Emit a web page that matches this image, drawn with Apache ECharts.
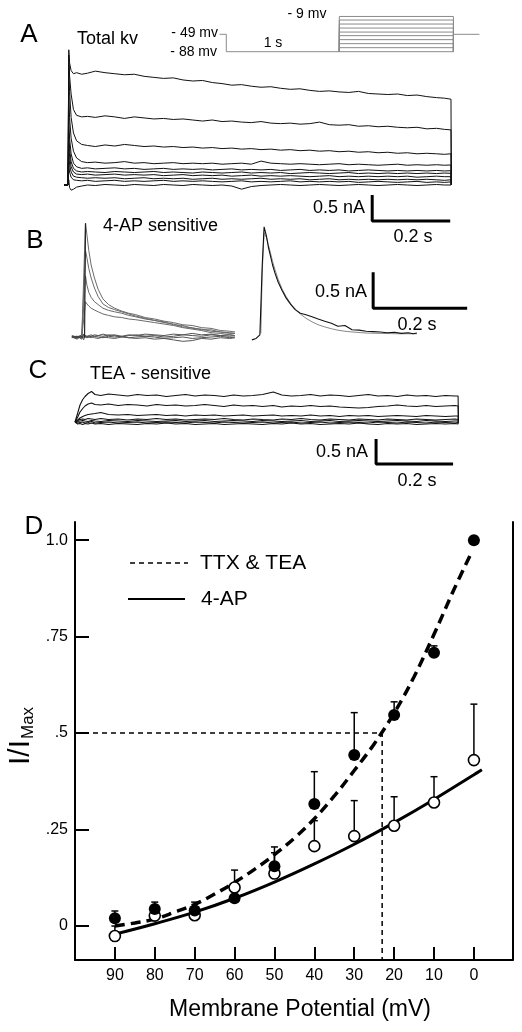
<!DOCTYPE html>
<html><head><meta charset="utf-8">
<script src="https://cdn.jsdelivr.net/npm/echarts@6/dist/echarts.min.js"></script>
<style>html,body{margin:0;padding:0;background:#fff}#c{width:522px;height:1032px}</style>
</head><body><div id="c"></div>
<script>
// ---------- Panel A: total Kv current traces (time ms, current nA) ----------
const tA = [-10,0,2,4,8,14,22,35,50,70, 95,120,145,170,195,220,245,270,295,320, 345,370,395,420,445,470,495,520,545,570, 595,620,645,670,695,720,745,770,795,820, 845,870,895,920,945,965,982,983];
const A1 = [0,0,2.6,2.35,2.2,2.14,2.16,2.13,2.15,2.19, 2.16,2.14,2.12,2.13,2.09,2.07,2.05,2.06,2.02,2.0, 2.01,1.97,1.95,1.92,1.93,1.9,1.88,1.89,1.86,1.84, 1.85,1.82,1.80,1.81,1.79,1.78,1.80,1.76,1.75,1.74, 1.75,1.72,1.73,1.70,1.68,1.67,1.65,0];
const A2 = [0,0,2.5,2.1,1.75,1.45,1.34,1.31,1.32,1.3, 1.33,1.31,1.28,1.31,1.29,1.27,1.28,1.26,1.27,1.25, 1.23,1.25,1.22,1.23,1.21,1.2,1.22,1.19,1.18,1.19, 1.17,1.18,1.21,1.16,1.15,1.16,1.13,1.14,1.12,1.13, 1.11,1.1,1.11,1.08,1.09,1.07,1.06,0];
const A3 = [0,0,2.3,1.8,1.3,1.0,0.85,0.78,0.76,0.74, 0.77,0.75,0.78,0.76,0.74,0.75,0.73,0.74,0.72,0.73, 0.71,0.72,0.70,0.71,0.69,0.70,0.68,0.69,0.67,0.68, 0.66,0.67,0.65,0.66,0.64,0.65,0.63,0.64,0.62,0.63, 0.61,0.62,0.60,0.61,0.60,0.59,0.60,0];
const A4 = [0,0,1.8,1.3,0.9,0.65,0.52,0.45,0.43,0.44, 0.42,0.43,0.45,0.42,0.43,0.41,0.42,0.43,0.41,0.42, 0.41,0.42,0.40,0.41,0.42,0.40,0.46,0.42,0.41,0.40, 0.41,0.40,0.39,0.40,0.41,0.39,0.40,0.39,0.38,0.39, 0.40,0.38,0.39,0.38,0.39,0.38,0.385,0];
const A5 = [0,0,1.3,0.9,0.6,0.42,0.35,0.32,0.33,0.31, 0.32,0.33,0.31,0.32,0.30,0.31,0.32,0.30,0.31,0.30, 0.31,0.29,0.30,0.31,0.29,0.30,0.29,0.30,0.28,0.29, 0.30,0.28,0.29,0.28,0.29,0.27,0.28,0.29,0.28,0.27, 0.28,0.27,0.28,0.27,0.28,0.27,0.275,0];
const A6 = [0,0,1.0,0.7,0.45,0.32,0.27,0.25,0.26,0.25, 0.24,0.26,0.25,0.24,0.25,0.26,0.24,0.25,0.24,0.23, 0.25,0.24,0.23,0.24,0.25,0.23,0.24,0.23,0.24,0.22, 0.23,0.24,0.23,0.22,0.23,0.24,0.22,0.23,0.22,0.23, 0.22,0.23,0.22,0.23,0.22,0.23,0.225,0];
const A7 = [0,0,0.8,0.55,0.35,0.25,0.21,0.2,0.21,0.19, 0.2,0.21,0.19,0.2,0.19,0.2,0.18,0.19,0.2,0.18, 0.19,0.18,0.19,0.17,0.18,0.19,0.17,0.18,0.17,0.18, 0.17,0.16,0.17,0.18,0.16,0.17,0.16,0.17,0.16,0.17, 0.16,0.17,0.15,0.16,0.17,0.16,0.16,0];
const A8 = [0,0,0.6,0.4,0.25,0.17,0.15,0.14,0.13,0.14, 0.13,0.14,0.12,0.13,0.14,0.12,0.13,0.12,0.13,0.11, 0.12,0.13,0.11,0.12,0.11,0.12,0.13,0.11,0.12,0.11, 0.12,0.1,0.11,0.12,0.1,0.11,0.1,0.11,0.1,0.11, 0.1,0.11,0.1,0.11,0.1,0.09,0.1,0];
const A9 = [0,0,0.4,0.25,0.15,0.1,0.09,0.08,0.09,0.07, 0.08,0.09,0.07,0.08,0.07,0.08,0.09,0.07,0.08,0.07, 0.08,0.07,0.06,0.07,0.08,0.06,0.07,0.06,0.07,0.08, 0.06,0.07,0.06,0.07,0.06,0.07,0.05,0.06,0.07,0.06, 0.05,0.06,0.07,0.05,0.06,0.05,0.06,0];
const A10 = [0,0,0.1,-0.05,-0.1,-0.08,-0.04,-0.02,0.0,-0.01, 0.01,0,-0.01,0.01,0,-0.01,0.01,0,-0.01,0.01, 0,-0.01,0,-0.02,-0.08,-0.03,-0.01,0,0.01,0, -0.01,0,0.01,0,-0.01,0,0.01,0,-0.01,0, 0.01,0,-0.01,0,0.01,0,0,0];
const tracesA = [A1,A2,A3,A4,A5,A6,A7,A8,A9,A10];
const scaleA = [[780,-0.19],[780,-0.69],[980,-0.69]];   // 0.5 nA / 0.2 s

// ---------- Voltage protocol (ms, mV) ----------
const protoHold = [[-60,-49],[0,-49],[0,-88],[1000,-88]];
const protoSteps = [-88,-79,-70,-61,-52,-44,-35,-26,-17,-9];
const protoStepStart = 1000, protoStepEnd = 2010;
const protoTail = [[2010,-49],[2240,-49]];

// ---------- Panel B: 4-AP sensitive ----------
const tB = [4,15,25,29,31,33,36,40,45,52, 60,70,82,95,110,125,140,160,180,200, 220,240,260,280,300,320,340,351];
const B1 = [0,0.01,-0.02,0,1.2,1.58,1.42,1.2,1.0,0.82, 0.66,0.53,0.45,0.40,0.36,0.33,0.31,0.27,0.25,0.22, 0.20,0.17,0.16,0.13,0.12,0.09,0.08,0.07];
const B2 = [0,-0.01,0.01,0,0.9,1.2,1.1,0.95,0.82,0.68, 0.56,0.46,0.41,0.38,0.35,0.32,0.29,0.26,0.23,0.21, 0.17,0.16,0.12,0.11,0.08,0.07,0.05,0.05];
const B3 = [0,0.01,0,0.01,0.6,0.85,0.72,0.62,0.55,0.49, 0.45,0.40,0.37,0.35,0.33,0.30,0.28,0.25,0.23,0.20, 0.18,0.14,0.13,0.10,0.10,0.07,0.06,0.05];
const B4 = [0,0,0.01,0,0.35,0.49,0.46,0.43,0.40,0.375, 0.35,0.32,0.30,0.28,0.27,0.25,0.24,0.22,0.20,0.18, 0.16,0.13,0.11,0.09,0.06,0.05,0.03,0.02];
const BF1 = [0.01,-0.02,0.02,0.03,0.02,0.01,0,0.02,0.01,0.03, 0.02,0.01,0.03,0.02,0,0.02,0.03,0.01,0.02,0, 0.01,0.03,0.02,0.01,0.03,0.02,0.01,0.02];
const BF2 = [-0.01,0.01,-0.03,0.04,0.01,-0.01,0.01,0,-0.01,0.01, 0,-0.01,0.01,0,0.01,-0.01,0,0.01,0,-0.02, -0.01,0,-0.02,-0.01,0,0.01,-0.01,0];
const BF3 = [0,-0.03,0.02,-0.04,0,0.01,-0.01,0,0.01,-0.01, -0.02,0,-0.01,-0.02,0,-0.01,-0.02,-0.01,-0.03,-0.02, -0.04,-0.06,-0.05,-0.02,-0.03,-0.01,-0.02,-0.01];
const BF4 = [0.02,0,0.03,0.01,0.02,0.03,0.01,0.02,0.03,0.01, 0.02,0.04,0.02,0.03,0.01,0.03,0.02,0.04,0.03,0.02, 0.04,0.03,0.05,0.03,0.04,0.02,0.03,0.02];
const tracesB = [BF1,BF2,BF3,BF4,B4,B3,B2,B1];
const tR = [387,396,404,406,409,413,418,422,426,431, 436,443,451,460,470,479,490,502,515,528, 542,556,570,585,600,615,630,645,660,675, 690,705,720,730,738];
const R  = [-0.04,-0.02,0.03,0.05,1.0,1.53,1.4,1.25,1.14,1.0, 0.89,0.76,0.65,0.54,0.45,0.38,0.33,0.31,0.28,0.25, 0.22,0.19,0.15,0.16,0.10,0.095,0.08,0.075,0.07,0.06, 0.065,0.05,0.06,0.045,0.055];
const tFit = [406,409,413,418,422,426,431,436,443,451, 460,470,479,490,502,515,528,542,556,570, 585,600,630,660,700,738];
const RFit = [0.05,0.9,1.45,1.38,1.28,1.18,1.05,0.94,0.8,0.67, 0.56,0.46,0.39,0.32,0.26,0.21,0.17,0.14,0.115,0.095, 0.08,0.07,0.055,0.05,0.045,0.045];
const scaleB = [[645,0.9],[645,0.4],[845,0.4]];

// ---------- Panel C: TEA sensitive ----------
const tC = [13,20,26,33,39,47,56,65,80,100, 125,150,175,200,225,250,275,300,325,350, 375,400,425,450,475,500,528,550,575,600, 625,650,675,700,725,750,775,800,825,850, 875,900,925,950,975,1000,1008,1009];
const C1 = [0,0.18,0.34,0.45,0.51,0.57,0.61,0.55,0.53,0.56, 0.54,0.52,0.55,0.53,0.54,0.51,0.53,0.55,0.52,0.54, 0.53,0.51,0.54,0.52,0.53,0.55,0.6,0.54,0.52,0.53, 0.55,0.52,0.54,0.53,0.51,0.53,0.55,0.52,0.53,0.51, 0.54,0.52,0.53,0.51,0.53,0.52,0.52,0];
const C2 = [0,0.1,0.2,0.27,0.32,0.36,0.38,0.35,0.34,0.36, 0.33,0.35,0.34,0.32,0.35,0.33,0.34,0.32,0.33,0.35, 0.33,0.31,0.34,0.32,0.33,0.31,0.33,0.30,0.32,0.31, 0.33,0.31,0.32,0.30,0.29,0.28,0.29,0.31,0.32,0.34, 0.32,0.31,0.33,0.31,0.32,0.33,0.32,0];
const C3 = [0,0.04,0.08,0.11,0.13,0.15,0.16,0.17,0.19,0.15, 0.14,0.15,0.13,0.14,0.15,0.13,0.14,0.12,0.14,0.13, 0.14,0.12,0.13,0.14,0.12,0.13,0.14,0.12,0.13,0.12, 0.14,0.12,0.13,0.11,0.13,0.12,0.13,0.11,0.12,0.13, 0.12,0.11,0.13,0.12,0.11,0.12,0.12,0];
const C4 = [0,0.03,0.05,0.06,0.05,0.07,0.06,0.05,0.07,0.05, 0.06,0.04,0.06,0.05,0.07,0.05,0.06,0.04,0.05,0.06, 0.05,0.07,0.05,0.04,0.06,0.05,0.04,0.06,0.05,0.07, 0.05,0.04,0.06,0.05,0.04,0.06,0.05,0.04,0.06,0.05, 0.04,0.06,0.05,0.04,0.05,0.06,0.05,0];
const C5 = [0,0.01,0.02,0.03,0.02,0.01,0.03,0.02,0.01,0.03, 0.02,0.01,0.03,0.02,0.01,0.02,0.03,0.01,0.02,0.03, 0.01,0.02,0.03,0.02,0.01,0.03,0.02,0.01,0.02,0.03, 0.01,0.02,0.03,0.01,0.02,0.03,0.02,0.01,0.02,0.03, 0.02,0.01,0.03,0.02,0.01,0.02,0.02,0];
const C6 = [0,-0.02,-0.01,0,-0.02,-0.01,0.01,-0.02,-0.01,0, -0.02,-0.01,0,-0.02,-0.01,0,-0.01,-0.02,0,-0.01, -0.02,0,-0.01,-0.02,-0.01,0,-0.02,-0.01,0,-0.02, -0.01,0,-0.02,-0.01,0,-0.01,-0.02,0,-0.01,-0.02, 0,-0.01,-0.02,0,-0.01,-0.02,-0.01,0];
const C7 = [0,-0.04,-0.03,-0.05,-0.03,-0.04,-0.02,-0.04,-0.03,-0.05, -0.03,-0.04,-0.05,-0.03,-0.04,-0.02,-0.04,-0.03,-0.05,-0.04, -0.03,-0.05,-0.04,-0.03,-0.04,-0.05,-0.03,-0.04,-0.02,-0.04, -0.03,-0.05,-0.04,-0.03,-0.04,-0.02,-0.04,-0.05,-0.03,-0.04, -0.03,-0.05,-0.04,-0.03,-0.04,-0.03,-0.04,0];
const tracesC = [C1,C2,C3,C4,C5,C6,C7];
const scaleC = [[795,-0.34],[795,-0.84],[995,-0.84]];

// ---------- Panel D: I/Imax vs membrane potential ----------
const vD      = [90,80,70,60,50,40,30,20,10,0];
const ttxTea  = [0.02,0.044,0.04,0.072,0.155,0.316,0.443,0.547,0.708,1.0];
const ttxErr  = [0.039,0.062,0.062,null,0.205,0.40,0.553,0.581,0.726,null];
const ap4     = [-0.026,0.027,0.028,0.10,0.136,0.207,0.233,0.26,0.32,0.43];
const ap4Err  = [0.0,null,null,0.145,0.19,0.273,0.325,0.335,0.387,0.575];
const ttxFitV = [90,85,80,75,70,65,60,55,50,45,40,35,30,25,20,15,10,5,0.5];
const ttxFitI = [0.0,0.008,0.018,0.036,0.056,0.083,0.113,0.147,0.185,0.228,0.278,0.337,0.403,0.472,0.552,0.646,0.756,0.872,0.97];
const apFitV  = [90,80,70,60,50,40,30,20,10,0,-2];
const apFitI  = [-0.021,0.006,0.036,0.072,0.114,0.161,0.212,0.268,0.328,0.392,0.405];
const halfV = 23, halfI = 0.5;
const xTickVals = [90,80,70,60,50,40,30,20,10,0];
const yTickVals = [0,0.25,0.5,0.75,1.0];
const yTickLabels = ['0','.25','.5','.75','1.0'];

// ---------- build ----------
const FONT = '"Liberation Sans", Arial, Helvetica, sans-serif';
const chart = echarts.init(document.getElementById('c'));

function line(gi, data, color, width, extra) {
  return Object.assign({type:'line', xAxisIndex:gi, yAxisIndex:gi, data, symbol:'none', showSymbol:false,
    silent:true, animation:false, lineStyle:{color, width}}, extra || {});
}
const zip = (ts, vs) => ts.map((t,i) => [t, vs[i]]);
const series = [];
tracesA.forEach(v => series.push(line(0, zip(tA, v), '#111', 1)));
series.push(line(0, scaleA, '#000', 3));
series.push(line(1, protoHold, '#8a8a8a', 1));
protoSteps.forEach(v => series.push(line(1, [[protoStepStart,-88],[protoStepStart,v],[protoStepEnd,v],[protoStepEnd,-88]], '#8a8a8a', 1)));
series.push(line(1, protoTail, '#8a8a8a', 1));
tracesB.forEach((v,i) => series.push(line(2, zip(tB, v), i < 4 ? '#555' : '#6a6a6a', 1)));
series.push(line(2, [[4,0],[31,0],[33,1.58]], '#222', 1.2));
series.push(line(2, zip(tFit, RFit), '#888', 1));
series.push(line(2, zip(tR, R), '#111', 1.1));
series.push(line(2, scaleB, '#000', 3));
tracesC.forEach(v => series.push(line(3, zip(tC, v), '#111', 1.1)));
series.push(line(3, scaleC, '#000', 3));

// Panel D
series.push(line(4, [[100,halfI],[halfV,halfI],[halfV,-0.088]], '#000', 1.5, {lineStyle:{color:'#000', width:1.5, type:[5,4]}, z:1}));
series.push(line(4, zip(ttxFitV, ttxFitI), '#000', 3.5, {smooth:0.4, lineStyle:{color:'#000', width:3.5, type:[10,6]}, z:2}));
series.push(line(4, zip(apFitV, apFitI), '#000', 3, {smooth:0.4, z:2}));
function errRender(params, api) {
  const p0 = api.coord([api.value(0), api.value(1)]);
  const p1 = api.coord([api.value(0), api.value(2)]);
  const st = {stroke:'#000', lineWidth:1.5};
  return {type:'group', children:[
    {type:'line', shape:{x1:p0[0], y1:p0[1], x2:p1[0], y2:p1[1]}, style:st},
    {type:'line', shape:{x1:p1[0]-3.5, y1:p1[1], x2:p1[0]+3.5, y2:p1[1]}, style:st}
  ]};
}
const errData = [];
vD.forEach((v,i) => { if (ttxErr[i] != null) errData.push([v, ttxTea[i], ttxErr[i]]); });
vD.forEach((v,i) => { if (ap4Err[i] != null) errData.push([v, ap4[i], ap4Err[i]]); });
series.push({type:'custom', xAxisIndex:4, yAxisIndex:4, data:errData, renderItem:errRender, encode:{x:0, y:1}, z:3, silent:true, animation:false});
series.push({type:'scatter', xAxisIndex:4, yAxisIndex:4, data:zip(vD, ap4), symbolSize:11,
  itemStyle:{color:'#fff', borderColor:'#000', borderWidth:1.6, opacity:1}, z:5, silent:true, animation:false});
series.push({type:'scatter', xAxisIndex:4, yAxisIndex:4, data:zip(vD, ttxTea), symbolSize:12,
  itemStyle:{color:'#000', opacity:1}, z:6, silent:true, animation:false});

const hidden = {show:false};
function txt(x, y, text, size, align, extra) {
  return Object.assign({type:'text', x, y, silent:true, style:{text, fontSize:size, fontFamily:FONT, fill:'#000', align:align||'left', verticalAlign:'middle'}}, extra || {});
}
const graphic = [
  txt(29,35,'A',26,'center'), txt(77,39,'Total kv',18),
  txt(218,33,'- 49 mv',14,'right'), txt(217,52,'- 88 mv',14,'right'),
  txt(307,14,'- 9 mv',14,'center'), txt(273,43,'1 s',14,'center'),
  txt(365,208,'0.5 nA',18,'right'), txt(413,237,'0.2 s',18,'center'),
  txt(35,241,'B',26,'center'), txt(103,226,'4-AP sensitive',18),
  txt(367,292,'0.5 nA',18,'right'), txt(417,325,'0.2 s',18,'center'),
  txt(38,371,'C',26,'center'), txt(90,374,'TEA - sensitive',18),
  txt(368,452,'0.5 nA',18,'right'), txt(417,481,'0.2 s',18,'center'),
  txt(34,527,'D',26,'center'),
  {type:'line', silent:true, shape:{x1:130,y1:563,x2:188,y2:563}, style:{stroke:'#000', lineWidth:1.5, lineDash:[5,4]}},
  txt(200,563,'TTX & TEA',21),
  {type:'line', silent:true, shape:{x1:128,y1:599,x2:185,y2:599}, style:{stroke:'#000', lineWidth:2}},
  txt(201,599,'4-AP',21),
  txt(21,765,'I/I',30,'left',{rotation:Math.PI/2}),
  txt(28.5,739,'Max',17,'left',{rotation:Math.PI/2}),
  txt(300,1010,'Membrane Potential (mV)',23,'center')
];

chart.setOption({
  animation:false,
  backgroundColor:'#fff',
  grid:[
    {left:60.2, top:39.4, width:397.8, height:192.4, containLabel:false},
    {left:215, top:12.45, width:271.2, height:44.6, containLabel:false},
    {left:70, top:214.6, width:399.5, height:133.2, containLabel:false},
    {left:70, top:384.5, width:392.7, height:82.5, containLabel:false},
    {left:75, top:522, width:437.6, height:438, containLabel:false}
  ],
  xAxis:[
    Object.assign({gridIndex:0, type:'value', min:-20, max:1000}, hidden),
    Object.assign({gridIndex:1, type:'value', min:-100, max:2300}, hidden),
    Object.assign({gridIndex:2, type:'value', min:0, max:850}, hidden),
    Object.assign({gridIndex:3, type:'value', min:0, max:1020}, hidden),
    {gridIndex:4, type:'value', inverse:true, min:-9.7, max:100,
      axisLine:{show:true, onZero:false, lineStyle:{color:'#000', width:2}},
      axisTick:{show:true, inside:true, length:13, customValues:xTickVals, lineStyle:{color:'#000', width:2}},
      axisLabel:{show:true, customValues:xTickVals, fontSize:16, color:'#000', margin:8, fontFamily:FONT},
      splitLine:{show:false}}
  ],
  yAxis:[
    Object.assign({gridIndex:0, type:'value', min:-0.9, max:2.8}, hidden),
    Object.assign({gridIndex:1, type:'value', min:-100, max:0}, hidden),
    Object.assign({gridIndex:2, type:'value', min:-0.15, max:1.7}, hidden),
    Object.assign({gridIndex:3, type:'value', min:-0.9, max:0.75}, hidden),
    {gridIndex:4, type:'value', min:-0.088, max:1.047,
      axisLine:{show:true, onZero:false, lineStyle:{color:'#000', width:2}},
      axisTick:{show:true, inside:true, length:14, customValues:yTickVals, lineStyle:{color:'#000', width:2}},
      axisLabel:{show:true, customValues:yTickVals, fontSize:16, color:'#000', margin:7, fontFamily:FONT,
        formatter: v => { const k = yTickVals.findIndex(t => Math.abs(t - v) < 1e-6); return k >= 0 ? yTickLabels[k] : ''; }},
      splitLine:{show:false}},
    {gridIndex:4, type:'value', position:'right', min:-0.088, max:1.047,
      axisLine:{show:true, onZero:false, lineStyle:{color:'#000', width:2}},
      axisTick:{show:false}, axisLabel:{show:false}, splitLine:{show:false}}
  ],
  series,
  graphic
});
</script></body></html>
